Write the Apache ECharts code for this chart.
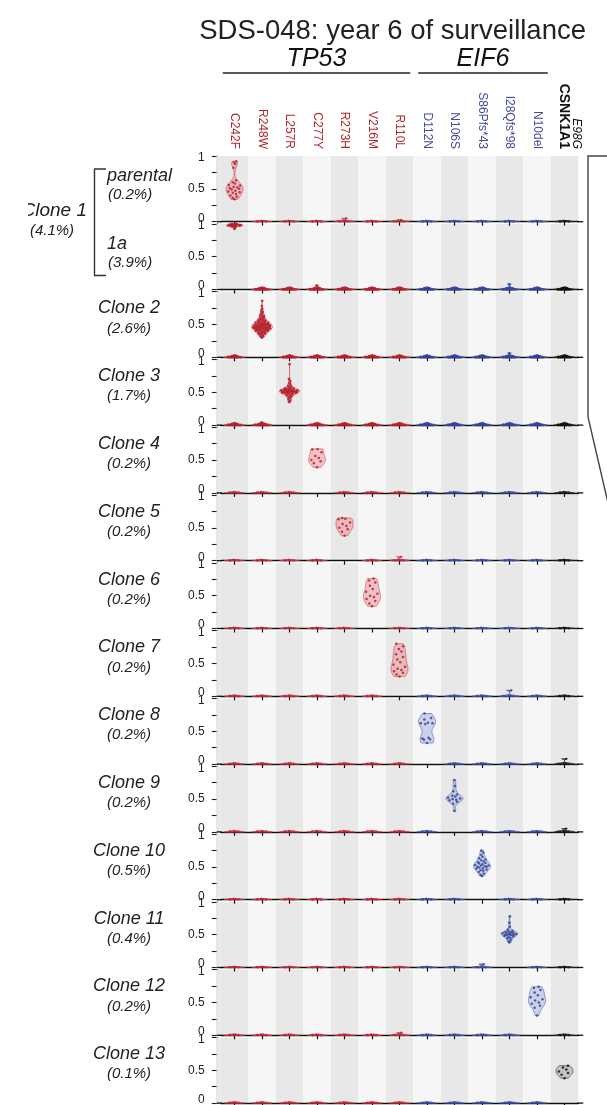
<!DOCTYPE html>
<html><head><meta charset="utf-8">
<script src="https://cdn.jsdelivr.net/npm/echarts@6/dist/echarts.min.js"></script>
<style>html,body{margin:0;padding:0;background:#fff}#c{width:607px;height:1105px}</style>
</head><body><div id="c"></div>
<script>
// ---------------- data ----------------
const titleText = 'SDS-048: year 6 of surveillance';
const mutations = ['C242F','R248W','L257R','C277Y','R273H','V216M','R110L','D112N','N106S','S86Pfs*43','I28Qfs*98','N10del','E98G'];
const genes = ['TP53','TP53','TP53','TP53','TP53','TP53','TP53','EIF6','EIF6','EIF6','EIF6','EIF6','CSNK1A1'];
const rowNames = ['parental','1a','Clone 2','Clone 3','Clone 4','Clone 5','Clone 6','Clone 7','Clone 8','Clone 9','Clone 10','Clone 11','Clone 12','Clone 13'];
const rowPcts = ['(0.2%)','(3.9%)','(2.6%)','(1.7%)','(0.2%)','(0.2%)','(0.2%)','(0.2%)','(0.2%)','(0.2%)','(0.5%)','(0.4%)','(0.2%)','(0.1%)'];
const clone1Name = 'Clone 1';
const clone1Pct = '(4.1%)';
const mainCol = [0,0,1,2,3,4,5,6,7,8,9,10,11,12];
const yTickLabels = ['0','0.5','1'];

const vafParental = [0.92,0.9,0.88,0.82,0.63,0.6,0.58,0.56,0.55,0.53,0.52,0.51,0.5,0.49,0.47,0.46,0.45,0.44,0.42,0.4,0.38,0.36,0.34];
const vaf1a = [1,1,1,0.99,0.99,0.99,0.98,0.98,0.98,0.98,0.98,0.97,0.97,0.97,0.97,0.97,0.96,0.96,0.95,0.94,0.92];
const vafClone2 = [0.86,0.78,0.74,0.71,0.69,0.67,0.66,0.64,0.63,0.62,0.61,0.6,0.59,0.58,0.58,0.57,0.56,0.56,0.55,0.55,0.54,0.54,0.53,0.53,0.53,0.52,0.52,0.52,0.51,0.51,0.51,0.5,0.5,0.5,0.5,0.49,0.49,0.49,0.49,0.48,0.48,0.48,0.48,0.47,0.47,0.47,0.47,0.46,0.46,0.46,0.46,0.45,0.45,0.45,0.45,0.45,0.44,0.44,0.44,0.44,0.43,0.43,0.43,0.43,0.42,0.42,0.42,0.41,0.41,0.41,0.4,0.4,0.4,0.39,0.39,0.38,0.38,0.37,0.37,0.36,0.36,0.35,0.34,0.33,0.32,0.31,0.3];
const vafClone3 = [0.93,0.7,0.67,0.64,0.62,0.6,0.59,0.58,0.57,0.56,0.56,0.55,0.55,0.54,0.54,0.54,0.53,0.53,0.53,0.53,0.52,0.52,0.52,0.52,0.52,0.51,0.51,0.51,0.51,0.5,0.5,0.5,0.5,0.49,0.49,0.49,0.48,0.48,0.47,0.47,0.46,0.45,0.44,0.43,0.42,0.4,0.38,0.36,0.35];
const vafClone4 = [0.67,0.66,0.62,0.56,0.53,0.5,0.48,0.45,0.39];
const vafClone5 = [0.65,0.64,0.63,0.58,0.56,0.53,0.5,0.48,0.44,0.38];
const vafClone6 = [0.76,0.73,0.7,0.65,0.6,0.56,0.53,0.5,0.48,0.45,0.42,0.38,0.34];
const vafClone7 = [0.8,0.76,0.72,0.68,0.64,0.6,0.56,0.52,0.48,0.45,0.42,0.4,0.38,0.36,0.33,0.3];
const vafClone8 = [0.77,0.7,0.68,0.63,0.62,0.62,0.61,0.4,0.39,0.38,0.37,0.32];
const vafClone9 = [0.79,0.7,0.62,0.57,0.55,0.54,0.52,0.51,0.5,0.49,0.48,0.46,0.43,0.32];
const vafClone10 = [0.75,0.72,0.68,0.65,0.63,0.61,0.6,0.58,0.57,0.56,0.55,0.54,0.53,0.52,0.52,0.51,0.5,0.5,0.49,0.48,0.47,0.46,0.45,0.44,0.42,0.4,0.38,0.36];
const vafClone11 = [0.78,0.68,0.62,0.58,0.56,0.55,0.54,0.54,0.53,0.53,0.52,0.52,0.51,0.51,0.5,0.5,0.5,0.49,0.49,0.48,0.47,0.46,0.45,0.44,0.42,0.4,0.38];
const vafClone12 = [0.74,0.72,0.69,0.65,0.61,0.58,0.55,0.53,0.5,0.48,0.45,0.42,0.3];
const vafClone13 = [0.57,0.54,0.51,0.48,0.46,0.43,0.38];
const mainVaf = [vafParental,vaf1a,vafClone2,vafClone3,vafClone4,vafClone5,vafClone6,vafClone7,vafClone8,vafClone9,vafClone10,vafClone11,vafClone12,vafClone13];

// near-zero background VAFs in the non-clone columns
const bgVafDense = [0,0,0,0,0,0,0,0.005,0.005,0.005,0.01,0.01,0.01,0.015,0.02,0.02,0.03];
const bgVafSparse = [0,0,0,0.005,0.01,0.015];
const rowDense = [false,true,true,true,false,false,false,false,false,false,false,false,false,false];
const bgOutliers = [[0,4,0.05],[0,6,0.03],[1,3,0.06],[1,10,0.08],[2,10,0.06],[3,1,0.04],[5,6,0.06],[7,10,0.09],[8,12,0.08],[9,8,0.07],[9,12,0.05],[11,9,0.05],[12,6,0.04]];

// ---------------- layout / style ----------------
const FONT = '"Liberation Sans", Arial, Helvetica, sans-serif';
const NARROW = '"Liberation Sans Narrow", "Liberation Sans", Arial, sans-serif';
const GRID_LEFT = 220.75, BAND = 27.5, ZERO0 = 221.7, PITCH = 67.8, UNIT = 65.7;
const NROW = rowNames.length, NCOL = mutations.length;
const palette = {
  TP53: {dot:'#b51f2a', fill:'rgba(234,120,132,0.42)', line:'rgba(205,60,75,0.8)', label:'#b3262e'},
  EIF6: {dot:'#34449a', fill:'rgba(140,158,214,0.42)', line:'rgba(70,90,175,0.8)', label:'#474a9e'},
  CSNK1A1: {dot:'#111111', fill:'rgba(150,150,150,0.45)', line:'rgba(40,40,40,0.8)', label:'#111111'}
};
const zeroY = i => ZERO0 + PITCH * i;

function cellValues(r, c) {
  if (c === mainCol[r]) return mainVaf[r];
  const base = rowDense[r] ? bgVafDense : bgVafSparse;
  return base.concat(bgOutliers.filter(o => o[0] === r && o[1] === c).map(o => o[2]));
}
function vdc(n) { let v = 0, d = 1; while (n > 0) { d *= 2; v += (n % 2) / d; n = Math.floor(n / 2); } return v; }
function violin(vals) {
  const s = vals.slice().sort((a, b) => a - b), n = s.length;
  const mean = s.reduce((a, b) => a + b, 0) / n;
  const sd = Math.sqrt(s.reduce((a, b) => a + (b - mean) * (b - mean), 0) / Math.max(1, n - 1));
  const q = p => { const h = (n - 1) * p, l = Math.floor(h); return s[l] + (s[Math.min(n - 1, l + 1)] - s[l]) * (h - l); };
  let m = Math.min(sd, (q(0.75) - q(0.25)) / 1.34); if (!(m > 0)) m = sd;
  const bw = Math.max(0.9 * m * Math.pow(n, -0.2), 0.004);
  const lo = s[0], hi = s[n - 1], K = 40, ys = [], ds = [];
  for (let k = 0; k <= K; k++) {
    const y = lo + (hi - lo) * k / K; let d = 0;
    for (const v of s) { const z = (y - v) / bw; d += Math.exp(-0.5 * z * z); }
    ys.push(y); ds.push(d);
  }
  const mx = Math.max(...ds);
  return {s, ys, ws: ds.map(d => d / mx), lo, hi};
}
function widthAt(vi, v) {
  if (vi.hi === vi.lo) return 1;
  const t = (v - vi.lo) / (vi.hi - vi.lo) * (vi.ys.length - 1);
  const k = Math.max(0, Math.min(vi.ys.length - 2, Math.floor(t))), f = t - k;
  return vi.ws[k] * (1 - f) + vi.ws[k + 1] * f;
}

function renderCell(params, api) {
  const c = api.value(0), r = api.value(1);
  const col = palette[genes[c]];
  const vals = cellValues(r, c);
  const vi = violin(vals);
  const isMain = c === mainCol[r];
  const bandW = api.size([1, 0])[0];
  const hw = bandW * (isMain ? (vals.length > 40 ? 0.38 : 0.31) : 0.35);
  const cx = api.coord([c, 0])[0];
  const children = [];
  if (c === 0) {
    const yTop = api.coord([0, 1])[1], yBot = api.coord([0, 0])[1];
    const gl = cx - bandW / 2;
    children.push({type:'rect', shape:{x: gl - 4, y: yTop, width: 4, height: yBot - yTop}, style:{fill:'#e8e8e8'}, z2: 0});
    children.push({type:'line', shape:{x1: gl - 4, y1: yBot, x2: gl + 1, y2: yBot}, style:{stroke:'#111', lineWidth:1.3}, z2: 0});
    const gr = gl + bandW * NCOL;
    children.push({type:'line', shape:{x1: gr - 1, y1: yBot, x2: gr + 5, y2: yBot}, style:{stroke:'#111', lineWidth:1.3}, z2: 0});
  }
  const right = [], left = [];
  for (let k = 0; k < vi.ys.length; k++) {
    const py = api.coord([c, vi.ys[k]])[1];
    right.push([cx + hw * vi.ws[k], py]);
    left.push([cx - hw * vi.ws[k], py]);
  }
  children.push({type:'polygon', shape:{points: right.concat(left.reverse())},
    style:{fill: col.fill, stroke: col.line, lineWidth: isMain ? 0.7 : (rowDense[r] ? 1.6 : 1.2)}, z2: 1});
  const rad = isMain ? (vals.length > 40 ? 1.3 : 1.25) : (rowDense[r] ? 1.35 : 1.1);
  vi.s.forEach((v, j) => {
    const off = (vdc(j + 1) * 2 - 1) * hw * widthAt(vi, v) * 0.88;
    const py = api.coord([c, v])[1];
    children.push({type:'circle', shape:{cx: cx + off, cy: py, r: rad}, style:{fill: col.dot, opacity: isMain ? 0.85 : 0.8}, z2: 2});
  });
  return {type:'group', children};
}

const grids = [], xAxes = [], yAxes = [], series = [];
for (let i = 0; i < NROW; i++) {
  grids.push({left: GRID_LEFT, width: BAND * NCOL, top: zeroY(i) - UNIT, height: UNIT, containLabel: false, outerBoundsMode: 'none'});
  xAxes.push({
    gridIndex: i, type: 'category', data: mutations, boundaryGap: true, position: 'bottom',
    axisLine: {show: true, lineStyle: {color: '#111', width: 1.3}},
    axisTick: {show: true, interval: 0, alignWithLabel: true, length: 4, inside: false, lineStyle: {color: '#111', width: 1.2}},
    axisLabel: {show: false, interval: 0}, splitLine: {show: false},
    splitArea: {show: true, interval: 0, areaStyle: {color: ['#e8e8e8', '#f6f6f6']}}
  });
  yAxes.push({
    gridIndex: i, type: 'value', min: 0, max: 1, interval: 0.25, offset: 4,
    axisLine: {show: true, lineStyle: {color: '#222', width: 1.2}},
    axisTick: {show: true, length: 5, lineStyle: {color: '#222', width: 1.1}},
    splitLine: {show: false},
    axisLabel: {
      margin: 12, color: '#222', fontSize: 12, fontFamily: FONT,
      formatter: v => v === 0 ? '{lo|' + yTickLabels[0] + '}' : v === 0.5 ? yTickLabels[1] : v === 1 ? '{hi|' + yTickLabels[2] + '}' : '',
      rich: {lo: {fontSize: 12, fontFamily: FONT, color: '#222', padding: [0, 0, 7, 0]}, hi: {fontSize: 12, fontFamily: FONT, color: '#222', padding: [4, 0, 0, 0]}}
    }
  });
  series.push({
    type: 'custom', xAxisIndex: i, yAxisIndex: i, silent: true, animation: false, clip: false,
    renderItem: renderCell,
    data: mutations.map((m, c) => [c, i])
  });
}
// column labels on top of the first panel
xAxes.push({
  gridIndex: 0, type: 'category', data: mutations, position: 'top', boundaryGap: true,
  axisLine: {show: false}, axisTick: {show: false}, splitLine: {show: false}, splitArea: {show: false},
  axisLabel: {
    show: true, rotate: 90, margin: 7, interval: 0, hideOverlap: false,
    formatter: (v, idx) => idx === NCOL - 1 ? '{e|' + v + '}\n{k|' + genes[idx] + '}\n{s| }' : '{' + (genes[idx] === 'TP53' ? 'r' : 'b') + '|' + v + '}',
    rich: {
      r: {color: palette.TP53.label, fontSize: 12, fontFamily: NARROW},
      b: {color: palette.EIF6.label, fontSize: 12, fontFamily: NARROW},
      k: {color: '#111', fontSize: 14, fontFamily: NARROW, fontWeight: 'bold', lineHeight: 14},
      e: {color: '#111', fontSize: 12, fontFamily: NARROW, fontStyle: 'italic', lineHeight: 12, padding: [0, 0, 0, 32]},
      s: {fontSize: 10, lineHeight: 10}
    }
  }
});

// ---------------- graphic labels ----------------
const graphics = [];
function txt(x, y, text, size, align, style) {
  graphics.push({type: 'text', x, y, silent: true, style: {
    text, fill: '#222', font: (style || 'normal') + ' ' + size + 'px ' + FONT,
    align, textAlign: align, verticalAlign: 'middle', textVerticalAlign: 'middle'}});
}
for (let i = 0; i < NROW; i++) {
  const mid = zeroY(i) - UNIT / 2;
  if (i < 2) {
    txt(107, mid - 13, rowNames[i], 18, 'left', 'italic');
    txt(108, mid + 6, rowPcts[i], 15, 'left', 'italic');
  } else {
    txt(129, mid - 16, rowNames[i], 18, 'center', 'italic');
    txt(129, mid + 4, rowPcts[i], 15, 'center', 'italic');
  }
}
const brTop = zeroY(0) - UNIT + 13, brBot = zeroY(1) - 14, brMid = (brTop + brBot) / 2;
txt(87, brMid - 12, clone1Name, 19, 'right', 'italic');
txt(52, brMid + 9, clone1Pct, 15, 'center', 'italic');
graphics.push({type: 'rect', shape: {x: 0, y: brMid - 26, width: 28, height: 24}, style: {fill: '#fff'}, z: 50, silent: true});
graphics.push({type: 'polyline', shape: {points: [[106, brTop], [94.5, brTop], [94.5, brBot], [106, brBot]]}, style: {stroke: '#333', lineWidth: 1.4, fill: null}, silent: true});
// gene headers
const tp53L = GRID_LEFT + 2, tp53R = GRID_LEFT + BAND * 7 - 3;
const eifL = GRID_LEFT + BAND * 7 + 5, eifR = GRID_LEFT + BAND * 12 - 3;
function header(x, text) {
  graphics.push({type: 'text', x, y: 59, silent: true, style: {text, fill: '#111', font: 'italic 25px ' + FONT, align: 'center', textAlign: 'center', verticalAlign: 'middle', textVerticalAlign: 'middle'}});
}
header((tp53L + tp53R) / 2, genes[0]);
header((eifL + eifR) / 2, genes[7]);
graphics.push({type: 'line', shape: {x1: tp53L, y1: 73, x2: tp53R, y2: 73}, style: {stroke: '#222', lineWidth: 1.6}, silent: true});
graphics.push({type: 'line', shape: {x1: eifL, y1: 73, x2: eifR, y2: 73}, style: {stroke: '#222', lineWidth: 1.6}, silent: true});
// right zoom bracket
graphics.push({type: 'polyline', shape: {points: [[607, 156], [588, 156], [588, 417], [608, 503]]}, style: {stroke: '#444', lineWidth: 1.4, fill: null}, silent: true});

const chart = echarts.init(document.getElementById('c'), null, {renderer: 'canvas'});
chart.setOption({
  animation: false,
  backgroundColor: '#fff',
  title: {text: titleText, right: 16, top: 12, textStyle: {fontSize: 27.5, fontWeight: 'normal', color: '#222', fontFamily: FONT}},
  grid: grids, xAxis: xAxes, yAxis: yAxes, series,
  graphic: graphics
});
</script></body></html>
